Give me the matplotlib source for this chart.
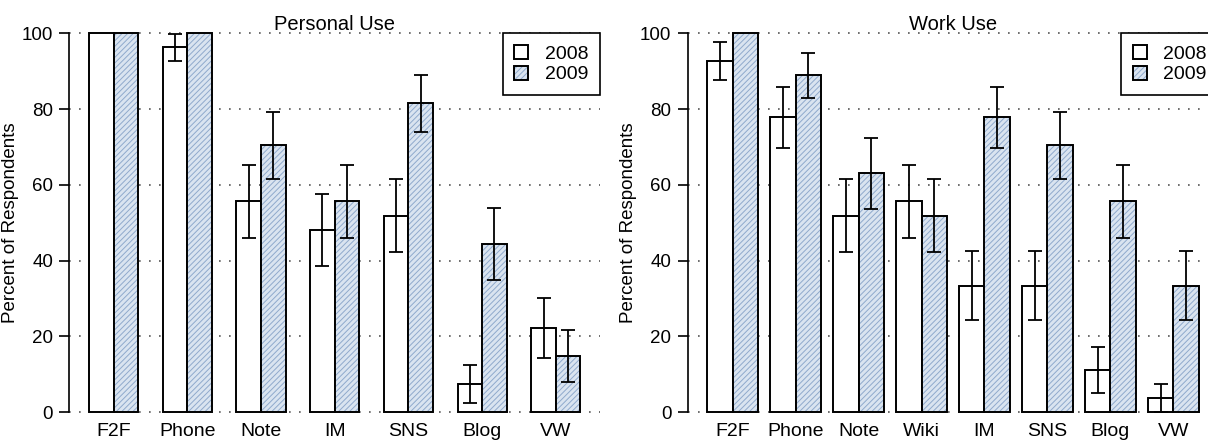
import matplotlib
matplotlib.use("Agg")
import matplotlib.pyplot as plt
from matplotlib.patches import Patch
from matplotlib.legend_handler import HandlerTuple
import numpy as np

plt.rcParams["font.family"] = ["Liberation Sans", "DejaVu Sans"]
plt.rcParams["hatch.linewidth"] = 0.7

years = ["2008", "2009"]

# Personal use (percent of respondents, +/- error)
personal_cats = ["F2F", "Phone", "Note", "IM", "SNS", "Blog", "VW"]
personal_2008 = [100, 96.3, 55.6, 48.1, 51.9, 7.4, 22.2]
personal_2009 = [100, 100, 70.4, 55.6, 81.5, 44.4, 14.8]
personal_err_2008 = [0, 3.6, 9.6, 9.6, 9.6, 5.0, 8.0]
personal_err_2009 = [0, 0, 8.8, 9.6, 7.5, 9.6, 6.8]

# Work use
work_cats = ["F2F", "Phone", "Note", "Wiki", "IM", "SNS", "Blog", "VW"]
work_2008 = [92.6, 77.8, 51.9, 55.6, 33.3, 33.3, 11.1, 3.7]
work_2009 = [100, 88.9, 63.0, 51.9, 77.8, 70.4, 55.6, 33.3]
work_err_2008 = [5.0, 8.0, 9.6, 9.6, 9.1, 9.1, 6.0, 3.6]
work_err_2009 = [0, 6.0, 9.3, 9.6, 8.0, 8.8, 9.6, 9.1]

yticks = [0, 20, 40, 60, 80, 100]

FILL_BLUE = "#dae4f0"
HATCH_BLUE = "#8fa9cc"
EDGE_LW = 1.4


def draw_panel(ax, title, cats, v08, v09, e08, e09, gap):
    n = len(cats)
    starts = gap + np.arange(n) * (2 + gap)
    x08 = starts + 0.5
    x09 = starts + 1.5

    ax.bar(x08, v08, width=1, color="white", edgecolor="black", linewidth=EDGE_LW)
    # hatched fill first, black outline on top
    ax.bar(x09, v09, width=1, color=FILL_BLUE, edgecolor=HATCH_BLUE,
           hatch="//////", linewidth=0)
    ax.bar(x09, v09, width=1, fill=False, edgecolor="black", linewidth=EDGE_LW)

    for xs, vs, es in ((x08, v08, e08), (x09, v09, e09)):
        es = np.array(es)
        keep = es > 0
        ax.errorbar(xs[keep], np.array(vs)[keep], yerr=es[keep], fmt="none",
                    ecolor="black", elinewidth=1.3, capsize=5, capthick=1.3,
                    zorder=4)

    lo, hi = starts[0], starts[-1] + 2
    pad = 0.04 * (hi - lo)
    ax.set_xlim(lo - pad, hi + pad)
    ax.set_ylim(-4, 104)

    ax.set_xticks((x08 + x09) / 2, cats)
    ax.tick_params(axis="x", length=0, pad=-3.2, labelsize=14)
    ax.set_yticks(yticks)
    ax.tick_params(axis="y", length=7.2, width=1.2, pad=4.5, labelsize=13.5)

    for s in ("top", "right", "bottom"):
        ax.spines[s].set_visible(False)
    ax.spines["left"].set_bounds(0, 100)
    ax.spines["left"].set_linewidth(1.2)

    ax.set_axisbelow(True)
    ax.yaxis.grid(True, linestyle=(0, (1, 5)), linewidth=1.2, color="#555555")

    ax.set_ylabel("Percent of Respondents", fontsize=13.5)
    ax.yaxis.set_label_coords(-0.095, 0.5)
    ax.set_title(title, y=0.972, pad=0, fontsize=14.5)

    h08 = Patch(facecolor="white", edgecolor="black", linewidth=EDGE_LW)
    h09_fill = Patch(facecolor=FILL_BLUE, edgecolor=HATCH_BLUE, hatch="//////", linewidth=0)
    h09_edge = Patch(fill=False, edgecolor="black", linewidth=EDGE_LW)
    leg = ax.legend([h08, (h09_fill, h09_edge)], years,
                    handler_map={tuple: HandlerTuple(ndivide=1, pad=0)},
                    loc="upper right", bbox_to_anchor=(1, 100),
                    bbox_transform=ax.get_yaxis_transform(), borderaxespad=0,
                    fontsize=14, fancybox=False, framealpha=1, edgecolor="black",
                    handlelength=0.72, handleheight=0.72, handletextpad=0.85,
                    borderpad=0.6, labelspacing=0.15)
    leg.get_frame().set_linewidth(1.2)


fig = plt.figure(figsize=(12.08, 4.41), dpi=100)
ax1 = fig.add_axes([0.0575, 0.0313, 0.4392, 0.9274])
ax2 = fig.add_axes([0.5693, 0.0313, 0.4392, 0.9274])

draw_panel(ax1, "Personal Use", personal_cats, personal_2008, personal_2009,
           personal_err_2008, personal_err_2009, gap=1.0)
draw_panel(ax2, "Work Use", work_cats, work_2008, work_2009,
           work_err_2008, work_err_2009, gap=0.5)

fig.savefig("out.png", dpi=100)
